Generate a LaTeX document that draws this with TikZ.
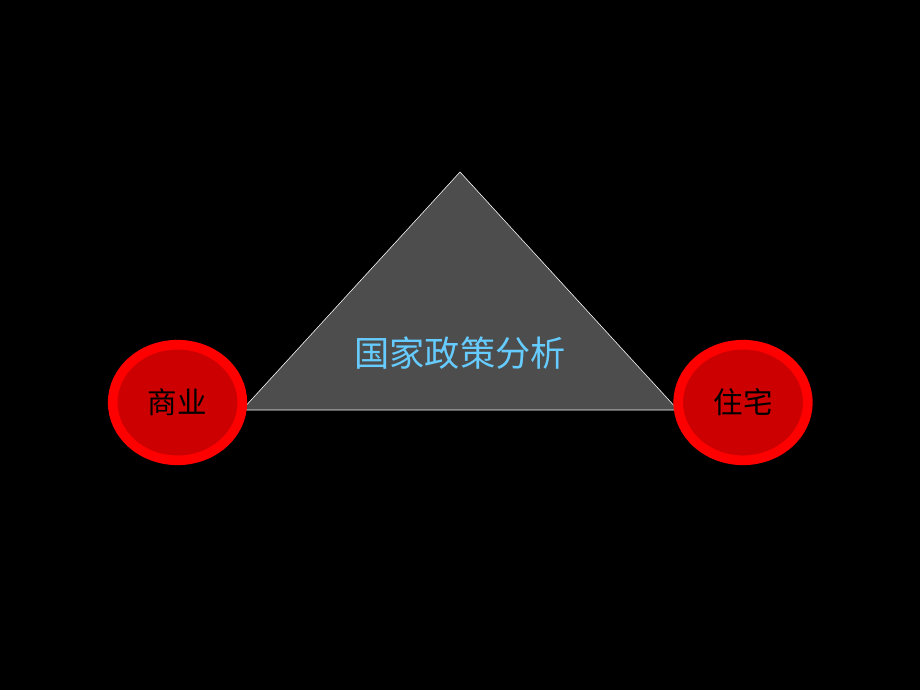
\documentclass[tikz,border=0pt]{standalone}
\usepackage{fontspec}
\newfontfamily\cjk{Noto Sans CJK SC}
\usetikzlibrary{shapes.geometric}

\definecolor{ringred}{HTML}{FF0000}
\definecolor{discred}{HTML}{CC0000}
\definecolor{wedgegray}{HTML}{4D4D4D}
\definecolor{titleblue}{HTML}{66CCFF}

\tikzset{
   sector/.style={ellipse,draw=ringred,line width=0.24cm,fill=discred,
      minimum width=3.24cm,minimum height=2.89cm,inner sep=0pt,
      font=\cjk\fontsize{21}{21}\selectfont,text=black}
}

\begin{document}
\begin{tikzpicture}[x=0.025cm,y=-0.025cm]
            \fill [black] (0,0) rectangle (920,690);
            \useasboundingbox (0,0) rectangle (920,690);

            \draw [white,thin,fill=wedgegray]
               (460,172) -- (678,410) -- (242,410) -- cycle;
            \node [font=\cjk\fontsize{25}{25}\selectfont,text=titleblue]
               (policy) at (460,353) {国家政策分析};

            \node [sector] (commerce) at (177.5,402.5) {\raisebox{-2pt}{商业}};
            \node [sector] (housing) at (743,402.5) {\raisebox{-2pt}{住宅}};
         \end{tikzpicture}
\end{document}
